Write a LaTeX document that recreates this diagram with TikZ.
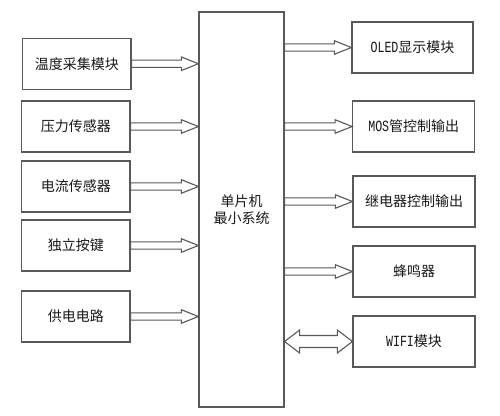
\documentclass[tikz,border=0pt]{standalone}
\usepackage{fontspec}
\newfontfamily\cjk{Noto Sans CJK SC}
\newfontfamily\latf[FakeStretch=0.75]{Liberation Mono}
\newcommand\mylat[1]{{\latf\fontsize{15.5}{17}\selectfont #1}}
\usetikzlibrary{calc}
\tikzset{
 box/.style={draw=black!65, line width=1.2pt, minimum height=51pt, inner sep=0pt,
   font=\cjk\fontsize{14}{17}\selectfont, text=black!90, align=center},
 lbox/.style={box, minimum width=108.5pt},
 rbox/.style={box, minimum width=122pt},
 fat/.style={draw=black!65, line width=1.1pt, fill=white, line join=miter},
}
\newcommand\fatarr[2]{\draw[fat] let \p1=(#1), \p2=(#2) in
 (\x1,\y1+3.6pt) -- (\x2-17pt,\y1+3.6pt) -- (\x2-17pt,\y1+6.75pt) -- (\x2,\y1)
 -- (\x2-17pt,\y1-6.75pt) -- (\x2-17pt,\y1-3.6pt) -- (\x1,\y1-3.6pt) -- cycle;}
\newcommand\dblarr[2]{\draw[fat] let \p1=(#1), \p2=(#2) in
 (\x1,\y1) -- (\x1+15pt,\y1+11.5pt) -- (\x1+15pt,\y1+6pt) -- (\x2-15pt,\y1+6pt)
 -- (\x2-15pt,\y1+11.5pt) -- (\x2,\y1) -- (\x2-15pt,\y1-11.5pt) -- (\x2-15pt,\y1-6pt)
 -- (\x1+15pt,\y1-6pt) -- (\x1+15pt,\y1-11.5pt) -- cycle;}
\begin{document}
\begin{tikzpicture}[x=1pt,y=-1pt]
\useasboundingbox[fill=white] (0,0) rectangle (500,415);
% central
\node[box, minimum width=85pt, minimum height=395pt] (C) at (241.5,209.5) {单片机\\最小系统};
% left
\node[lbox] (L1) at (76.75,63.75) {温度采集模块};
\node[lbox] (L2) at (75.75,126.5) {压力传感器};
\node[lbox] (L3) at (75.75,186.5) {电流传感器};
\node[lbox] (L4) at (75.75,245.5) {独立按键};
\node[lbox] (L5) at (75.75,316.5) {供电电路};
% right
\node[rbox, minimum width=121pt] (R1) at (412.5,47.5) {\mylat{OLED}显示模块};
\node[rbox] (R2) at (413.75,126.5) {\mylat{MOS}管控制输出};
\node[rbox] (R3) at (414,201.5) {继电器控制输出};
\node[rbox] (R4) at (414,271.5) {蜂鸣器};
\node[rbox] (R5) at (414,341.5) {\mylat{WIFI}模块};
% arrows
\fatarr{L1.east}{C.west |- L1.east}
\fatarr{L2.east}{C.west |- L2.east}
\fatarr{L3.east}{C.west |- L3.east}
\fatarr{L4.east}{C.west |- L4.east}
\fatarr{L5.east}{C.west |- L5.east}
\fatarr{C.east |- R1.west}{R1.west}
\fatarr{C.east |- R2.west}{R2.west}
\fatarr{C.east |- R3.west}{R3.west}
\fatarr{C.east |- R4.west}{R4.west}
\dblarr{C.east |- R5.west}{R5.west}
\end{tikzpicture}
\end{document}
